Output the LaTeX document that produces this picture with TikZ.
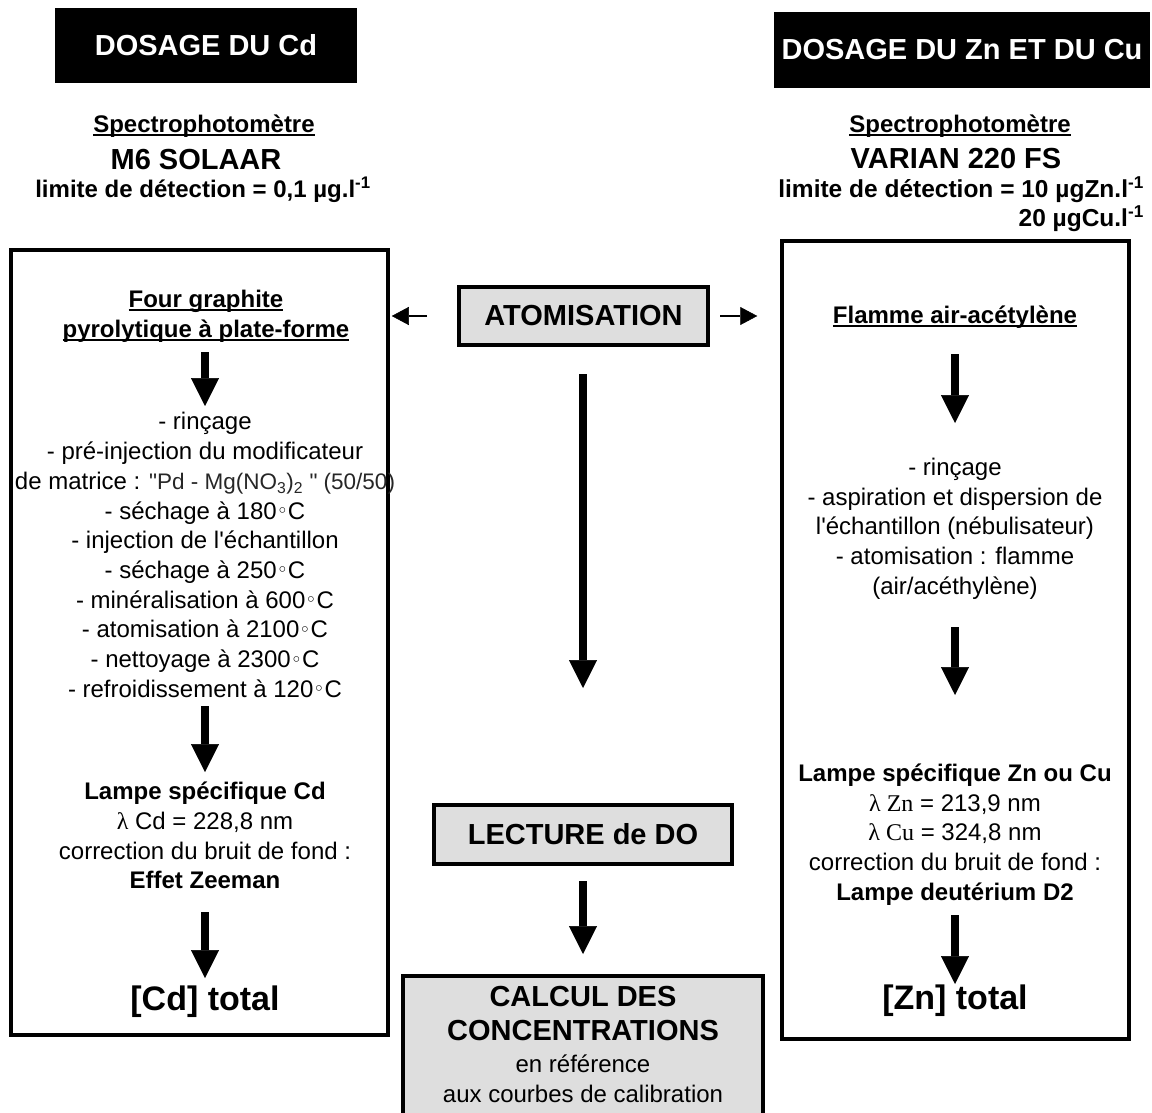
\documentclass[tikz,border=0pt]{standalone}
\usepackage{fontspec}
\setmainfont{Liberation Sans}[Ligatures=TeXOff]
\newfontfamily\timesf{Liberation Serif}
\newfontfamily\djv{DejaVu Sans}
\usetikzlibrary{arrows.meta}
\definecolor{boxgray}{HTML}{DEDEDE}
\newlength\myulw
\newcommand\myul[1]{\settowidth\myulw{#1}\rlap{\rule[-3.5pt]{\myulw}{2pt}}#1}
\newcommand\fs[2]{\fontsize{#1}{#2}\selectfont}
\newcommand\dg{\raisebox{1.5pt}{\djv\fontsize{19}{19}\selectfont ◦}}
\begin{document}
\begin{tikzpicture}[x=1pt,y=-1pt,
 hdr/.style={fill=black,text=white,font=\fs{29}{34}\bfseries,inner sep=0pt},
 frame/.style={draw,line width=3.5pt,inner sep=0pt},
 graybox/.style={draw,line width=4pt,fill=boxgray,inner sep=0pt,font=\fs{29}{34}\bfseries},
 txt/.style={align=center,inner sep=0pt,font=\fs{24}{29.7}},
 btxt/.style={align=center,inner sep=0pt,font=\fs{24}{30}\bfseries},
 bigtxt/.style={align=center,inner sep=0pt,font=\fs{29}{34}\bfseries},
 tottxt/.style={align=center,inner sep=0pt,font=\fs{34}{40}\bfseries},
 big/.style={line width=7.3pt,-{Triangle[width=28pt,length=28pt,line width=0.5pt]}},
 thinarr/.style={line width=1.5pt,-{Triangle[width=18pt,length=17pt,line width=0.5pt]}},
]
\useasboundingbox (0,0) rectangle (1152,1113);

% headers
\node[hdr,minimum width=302,minimum height=75] (hcd) at (206,45.5) {DOSAGE DU Cd};
\node[hdr,minimum width=376,minimum height=76] (hzn) at (962,50) {DOSAGE DU Zn ET DU Cu};

% instruments
\node[btxt] (spl) at (204,126) {\myul{Spectrophotomètre}};
\node[bigtxt] (m6) at (196,160) {M6 SOLAAR};
\node[btxt] (liml) at (203,190) {limite de détection = 0,1 µg.l\textsuperscript{-1}};

\node[btxt] (spr) at (960,126) {\myul{Spectrophotomètre}};
\node[bigtxt] (var) at (956,159) {VARIAN 220 FS};
\node[btxt,align=right,anchor=east,font=\fs{24.5}{29}\bfseries] (limr) at (1144,204.5)
  {limite de détection = 10 µgZn.l\textsuperscript{-1}\\20 µgCu.l\textsuperscript{-1}};

% frames
\node[frame,minimum width=377,minimum height=785] (lbox) at (199.5,642.5) {};
\node[frame,minimum width=347,minimum height=798] (rbox) at (955.5,640) {};

% centre column
\node[graybox,minimum width=249,minimum height=58] (atom) at (583.5,316) {ATOMISATION};
\node[graybox,minimum width=298,minimum height=59] (lect) at (583,834.5) {LECTURE de DO\hspace{36pt}};
\node[graybox,minimum width=360,minimum height=160,anchor=north] (calc) at (583,974) {};
\node[bigtxt] (c1) at (583,997) {CALCUL DES};
\node[bigtxt] (c2) at (583,1031) {CONCENTRATIONS};
\node[txt] (c3) at (583,1064) {en référence};
\node[txt] (c4) at (583,1094) {aux courbes de calibration};

% left column
\node[btxt] (four) at (206,316) {\myul{Four graphite}\\\myul{pyrolytique à plate-forme}};
\node[txt] (steps) at (205,555) {- rinçage\\- pré-injection du modificateur\\de matrice : {\fs{22.5}{29.7}\color{black!85}"Pd - Mg(NO\textsubscript{3})\textsubscript{2} " (50/50)}\\- séchage à 180\dg C\\- injection de l'échantillon\\- séchage à 250\dg C\\- minéralisation à 600\dg C\\- atomisation à 2100\dg C\\- nettoyage à 2300\dg C\\- refroidissement à 120\dg C};
\node[txt] (lampl) at (205,835.5) {{\bfseries Lampe spécifique Cd}\\{\timesf λ} Cd = 228,8 nm\\correction du bruit de fond :\\{\bfseries Effet Zeeman}};
\node[tottxt] (cdt) at (205,1002) {[Cd] total};

% right column
\node[btxt] (flam) at (955,317) {\myul{Flamme air-acétylène}};
\node[txt] (rsteps) at (955,528.5) {- rinçage\\- aspiration et dispersion de\\l'échantillon (nébulisateur)\\- atomisation : flamme\\(air/acéthylène)};
\node[txt] (lampr) at (955,834.5) {{\bfseries Lampe spécifique Zn ou Cu}\\{\timesf λ Zn} = 213,9 nm\\{\timesf λ Cu} = 324,8 nm\\correction du bruit de fond :\\{\bfseries Lampe deutérium D2}};
\node[tottxt] (znt) at (955,1001) {[Zn] total};

% arrow end points
\coordinate (a1s) at (205,352); \coordinate (a1e) at (205,406);
\coordinate (a2s) at (205,706); \coordinate (a2e) at (205,772);
\coordinate (a3s) at (205,912); \coordinate (a3e) at (205,978);
\coordinate (b1s) at (955,354); \coordinate (b1e) at (955,423);
\coordinate (b2s) at (955,627); \coordinate (b2e) at (955,695);
\coordinate (b3s) at (955,915); \coordinate (b3e) at (955,984);
\coordinate (m1s) at (583,374); \coordinate (m1e) at (583,688);
\coordinate (m2s) at (583,881); \coordinate (m2e) at (583,954);

\draw[big] (a1s) -- (a1e);
\draw[big] (a2s) -- (a2e);
\draw[big] (a3s) -- (a3e);
\draw[big] (b1s) -- (b1e);
\draw[big] (b2s) -- (b2e);
\draw[big] (b3s) -- (b3e);
\draw[big] (m1s) -- (m1e);
\draw[big] (m2s) -- (m2e);

\draw[thinarr] ([xshift=-30pt]atom.west) -- ([xshift=2pt]lbox.east |- atom.west);
\draw[thinarr] ([xshift=10pt]atom.east) -- ([xshift=-23pt]rbox.west |- atom.east);
\end{tikzpicture}
\end{document}
